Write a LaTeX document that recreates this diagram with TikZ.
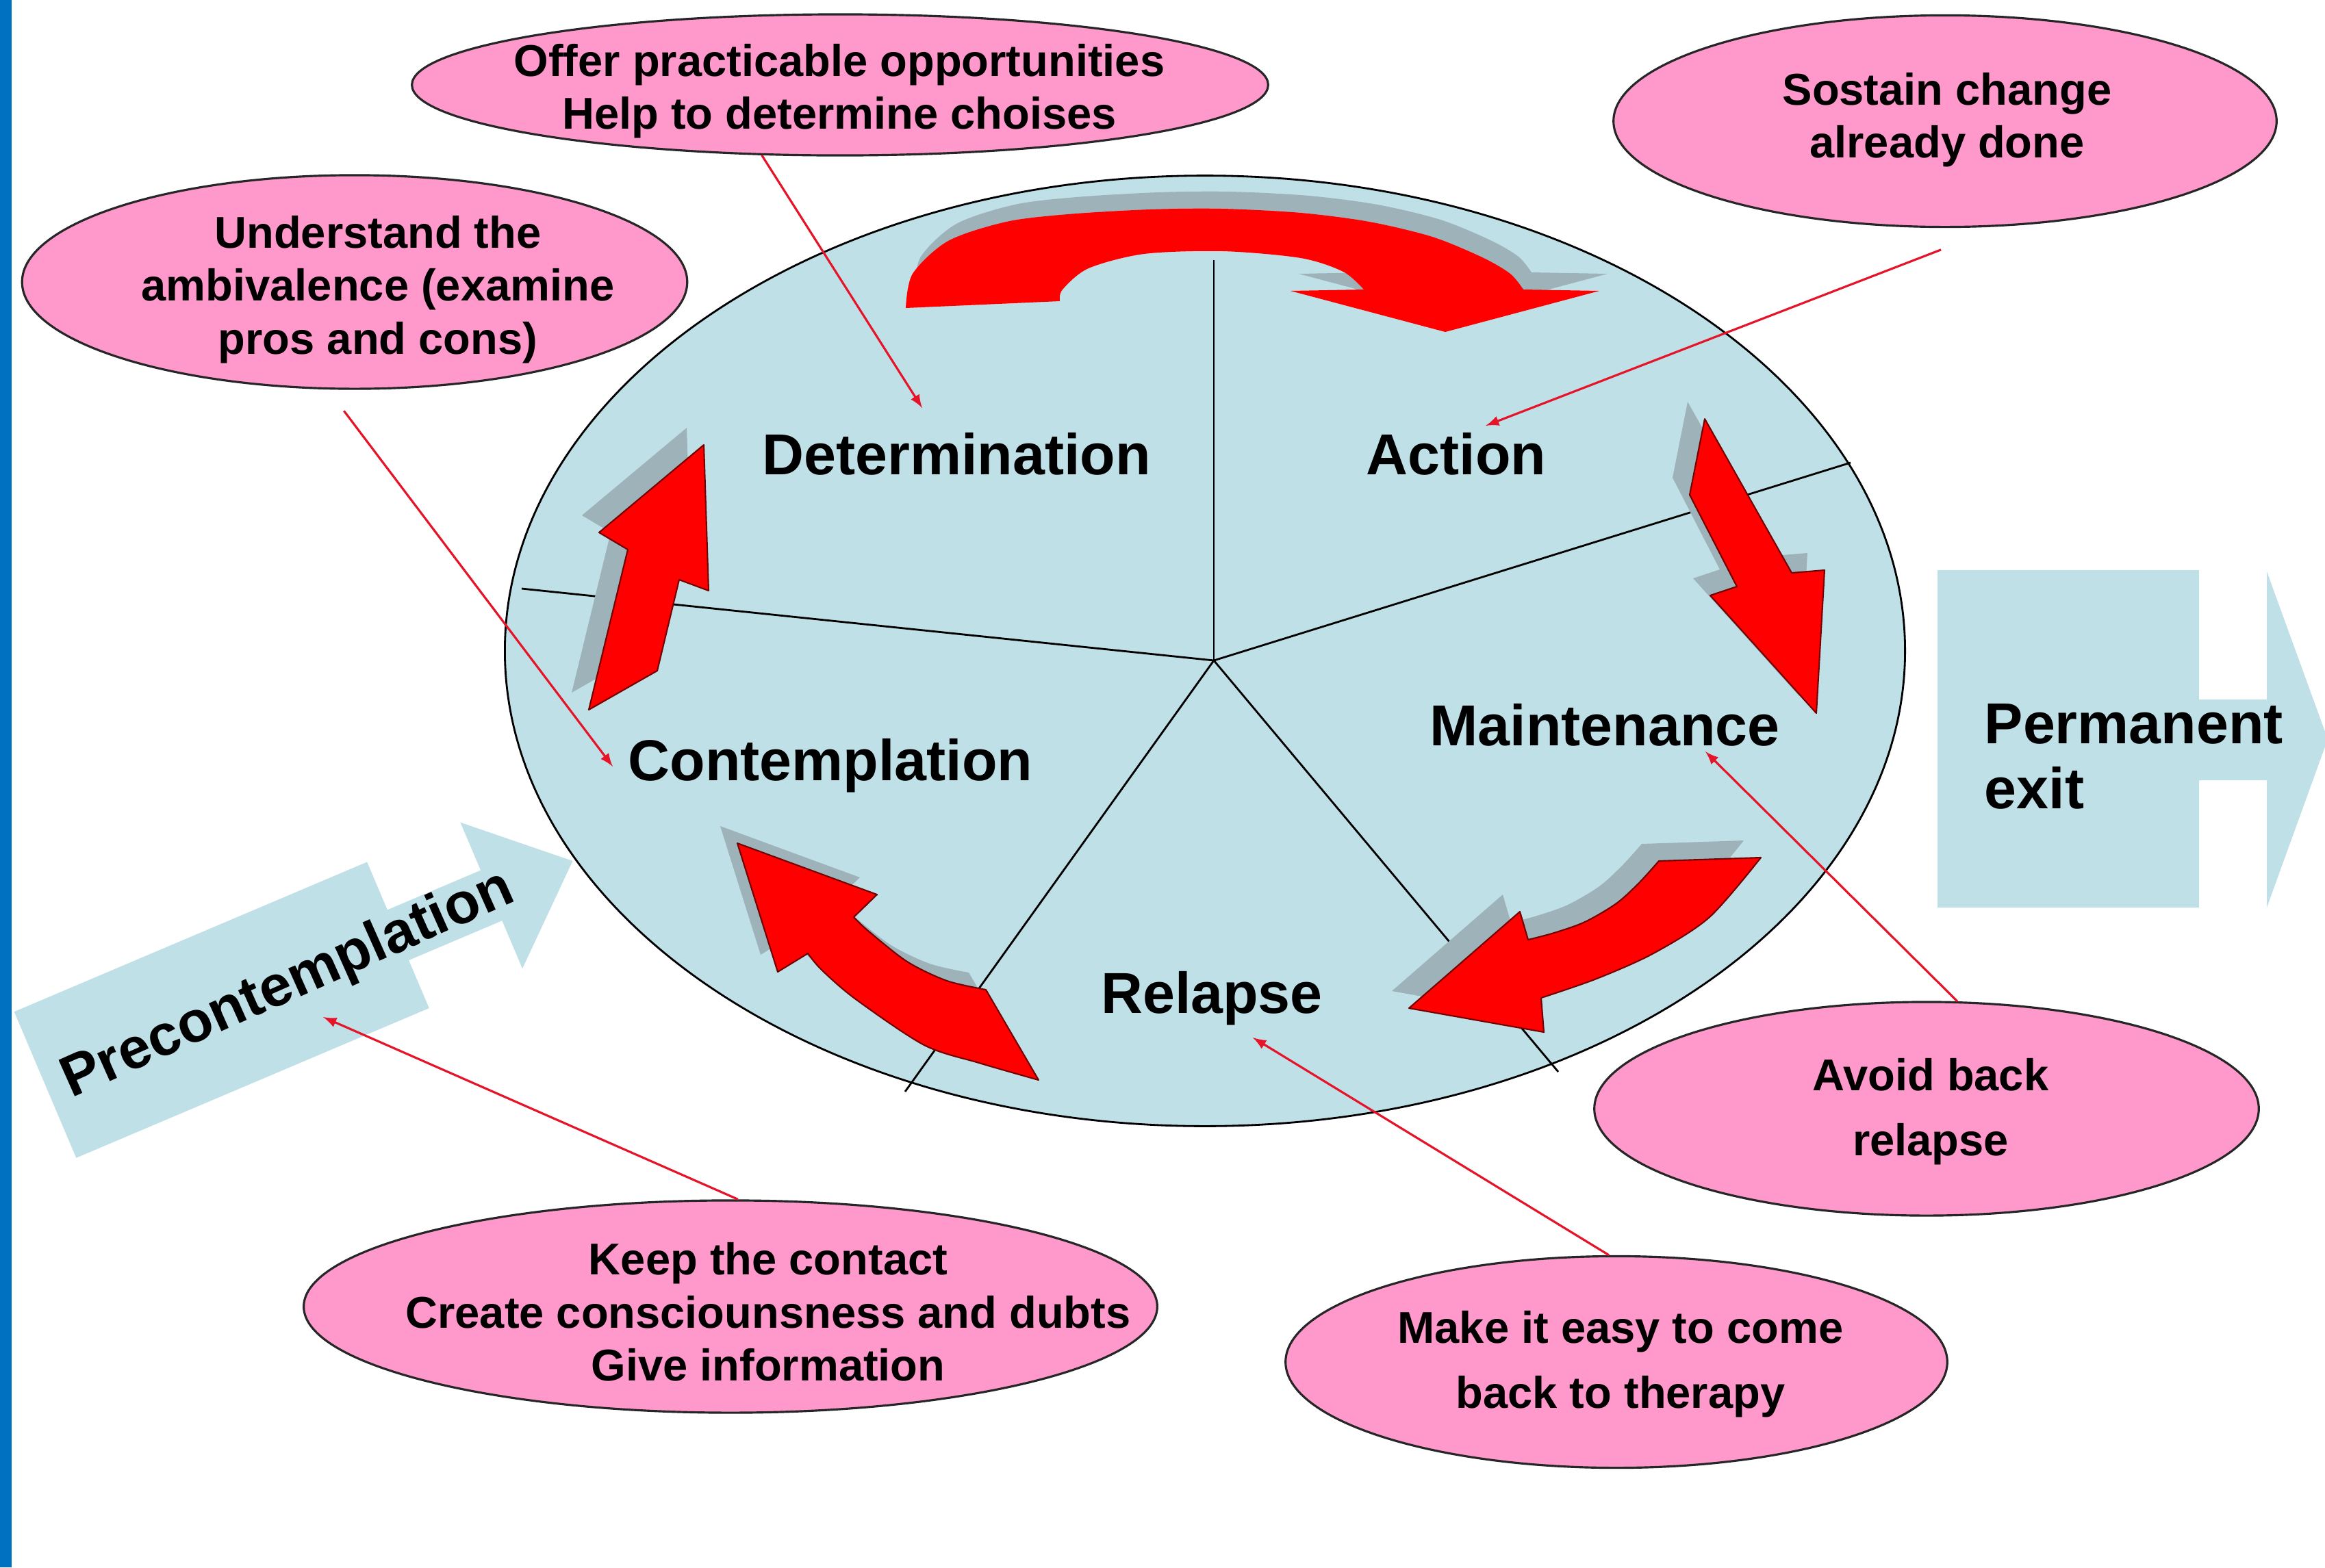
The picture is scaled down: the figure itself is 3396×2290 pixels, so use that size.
\documentclass[tikz,border=0pt]{standalone}
\usepackage{fontspec}
\setmainfont{Liberation Sans}
\usetikzlibrary{shapes.geometric}
\tikzset{>=latex}
\definecolor{sidebarblue}{RGB}{0,112,192}
\definecolor{wheelblue}{RGB}{192,224,231}
\definecolor{calloutpink}{RGB}{255,153,204}
\definecolor{cyclered}{RGB}{255,0,0}
\definecolor{shadowgray}{RGB}{158,178,186}
\definecolor{pointerred}{RGB}{230,20,40}

\newcommand{\pathtop}{plot[smooth] coordinates {(1323,450) (1333,400) (1385,352) (1470,324) (1560,313) (1680,306) (1785,305) (1900,311) (2000,324) (2092,346) (2165,376) (2206,400) (2225,423)}
	-- (2336,425) -- (2111,485) -- (1885,425) -- (1992,423)
	-- plot[smooth] coordinates {(1992,423) (1962,397) (1900,377) (1786,367) (1671,371) (1590,392) (1552,423) (1548,440)} -- cycle}
\newcommand{\pathup}{(1028,650) -- (1035,863) -- (992,847) -- (960,980) -- (860,1037) -- (917,803) -- (875,778) -- cycle}
\newcommand{\pathdown}{(2490,612) -- (2617,837) -- (2665,833) -- (2653,1042) -- (2498,870) -- (2537,857) -- (2468,723) -- cycle}
\newcommand{\pathback}{(2423,1258) -- (2572,1253)
	-- plot[smooth] coordinates {(2572,1253) (2497,1340) (2415,1393) (2332,1430) (2251,1458)}
	-- (2255,1508) -- (2058,1473) -- (2220,1332) -- (2232,1373)
	-- plot[smooth] coordinates {(2232,1373) (2270,1363) (2315,1347) (2361,1320) (2394,1290) (2423,1258)} -- cycle}
\newcommand{\pathreturn}{(1077,1232) -- (1281,1307) -- (1247,1340)
	-- plot[smooth] coordinates {(1247,1340) (1268,1360) (1325,1405) (1383,1433) (1440,1446)}
	-- (1517,1578)
	-- plot[smooth] coordinates {(1517,1578) (1430,1553) (1350,1527) (1250,1460) (1200,1417) (1180,1393)}
	-- (1136,1420) -- cycle}

\begin{document}
\begin{tikzpicture}[x=0.01cm, y=-0.01cm,
	stage/.style={font=\fontsize{24}{27}\selectfont\bfseries, inner sep=0pt},
	callout/.style={ellipse, draw=black!85, line width=0.9pt, fill=calloutpink, inner sep=0pt},
	callouttext/.style={font=\fontsize{18.5}{22}\selectfont\bfseries, align=center, inner sep=0pt},
	widetext/.style={callouttext, font=\fontsize{18.5}{27}\selectfont\bfseries},
	pointer/.style={->, draw=pointerred, line width=0.9pt},
	cyclearrow/.style={fill=cyclered, draw=black!55!red, line width=0.6pt, line join=round},
	arrowshadow/.style={fill=shadowgray}]

	\useasboundingbox (0,0) rectangle (3396,2290);
	\clip (0,0) rectangle (3396,2290);
	\fill[sidebarblue] (0,0) rectangle (17,2290);

	\fill[wheelblue, shift={(66,1585)}, rotate=23] (0,-116) -- (560,-116) -- (560,-40) -- (708,-40) -- (708,-116)
		-- (837,0) -- (708,116) -- (708,40) -- (560,40) -- (560,116) -- (0,116) -- cycle;
	\fill[wheelblue] (2830,833) -- (3212,833) -- (3212,1022) -- (3311,1022) -- (3311,835) -- (3400,1080)
		-- (3311,1326) -- (3311,1140) -- (3212,1140) -- (3212,1326) -- (2830,1326) -- cycle;

	\node[ellipse, draw, line width=0.8pt, fill=wheelblue, minimum width=20.44cm, minimum height=13.88cm, inner sep=0pt] (wheel) at (1760,951) {};
	\foreach \q in {(1773,380), (2703,676), (762,860), (1322,1595), (2276,1566)}
		\draw[line width=0.8pt] (1773,965) -- \q;

	\fill[arrowshadow, shift={(12,-25)}] \pathtop;
	\fill[cyclered] \pathtop;
	\fill[arrowshadow, shift={(-25,-25)}] \pathup;
	\filldraw[cyclearrow] \pathup;
	\fill[arrowshadow, shift={(-25,-25)}] \pathdown;
	\filldraw[cyclearrow] \pathdown;
	\fill[arrowshadow, shift={(-25,-25)}] \pathback;
	\filldraw[cyclearrow] \pathback;
	\fill[arrowshadow, shift={(-25,-25)}] \pathreturn;
	\filldraw[cyclearrow] \pathreturn;

	\node[stage] (determination) at (1397,663) {Determination};
	\node[stage] (action) at (2127,663) {Action};
	\node[stage] (maintenance) at (2344,1059) {Maintenance};
	\node[stage] (contemplation) at (1213,1119) {Contemplation};
	\node[stage] (relapse) at (1770,1459) {Relapse};
	\node[stage, rotate=24, anchor=base] (precontemplation) at (430,1460) {Precontemplation};
	\node[stage, anchor=west, align=left] (exit) at (2898,1105) {Permanent\\exit};

	\node[callout, minimum width=12.5cm, minimum height=2.06cm] (offer) at (1227,124) {};
	\node[callouttext] (offertext) at (1226,133) {Offer practicable opportunities\\Help to determine choises};
	\node[callout, minimum width=9.68cm, minimum height=3.09cm] (sostain) at (2841,177) {};
	\node[callouttext] (sostaintext) at (2844,175) {Sostain change\\already done};
	\node[callout, minimum width=9.71cm, minimum height=3.12cm] (understand) at (518,412) {};
	\node[callouttext] (understandtext) at (552,423) {Understand the\\ambivalence (examine\\pros and cons)};
	\node[callout, minimum width=9.70cm, minimum height=3.12cm] (avoid) at (2814,1620) {};
	\node[widetext] (avoidtext) at (2820,1624) {Avoid back\\relapse};
	\node[callout, minimum width=12.46cm, minimum height=3.10cm] (keep) at (1067,1909) {};
	\node[callouttext] (keeptext) at (1122,1917) {Keep the contact\\Create consciounsness and dubts\\Give information};
	\node[callout, minimum width=9.66cm, minimum height=3.09cm] (makeeasy) at (2361,1990) {};
	\node[widetext] (makeeasytext) at (2367,1993) {Make it easy to come\\back to therapy};

	\coordinate (offertip) at (1347,596);
	\coordinate (sostaintip) at (2170,622);
	\coordinate (understandtip) at (895,1120);
	\coordinate (avoidtip) at (2491,1098);
	\coordinate (keeptip) at (472,1486);
	\coordinate (makeeasytip) at (1830,1516);

	\draw[pointer] (offer.222) -- (offertip);
	\draw[pointer, shorten <=0.94cm] (sostain.298) -- (sostaintip);
	\draw[pointer, shorten <=0.39cm] (understand.256) -- (understandtip);
	\draw[pointer] (avoid.74) -- (avoidtip);
	\draw[pointer] (keep.86) -- (keeptip);
	\draw[pointer] (makeeasy.94) -- (makeeasytip);
\end{tikzpicture}
\end{document}
